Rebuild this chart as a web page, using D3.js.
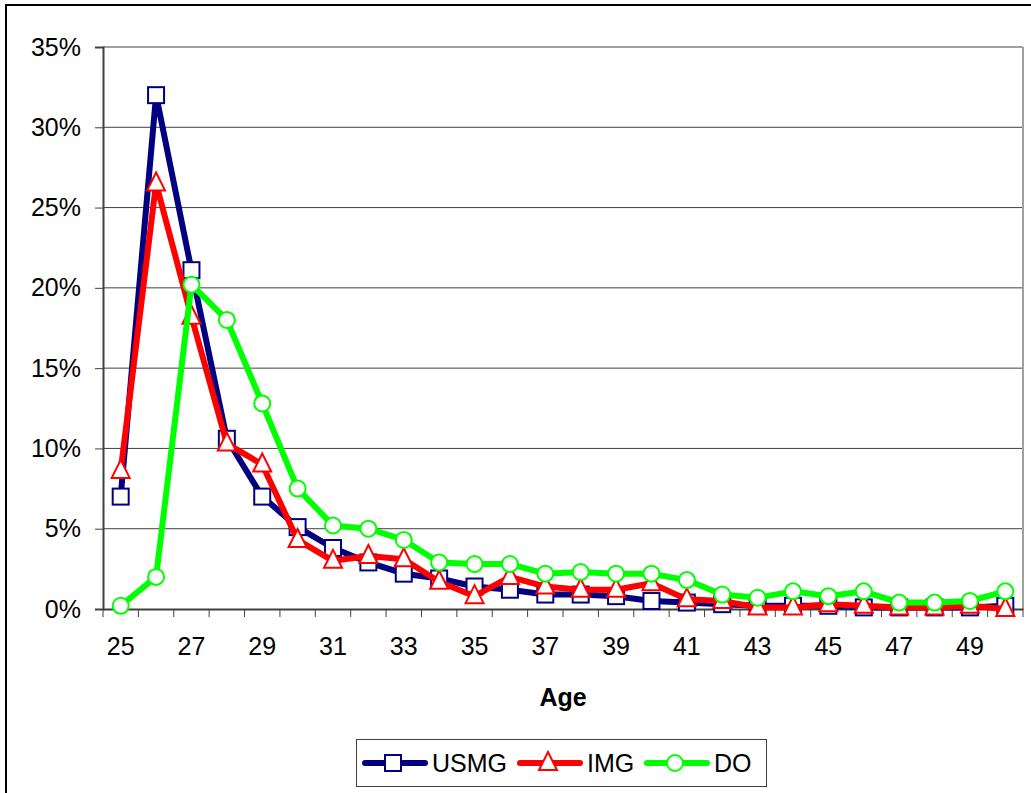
<!DOCTYPE html>
<html>
<head>
<meta charset="utf-8">
<script src="https://cdn.jsdelivr.net/npm/d3@7"></script>
<style>
  body { margin: 0; background: #fff; }
  svg { display: block; font-family: "Liberation Sans", Arial, sans-serif; }
</style>
</head>
<body>
<div id="chart"></div>
<script>
// Podatki
const ages = ["25","26","27","28","29","30","31","32","33","34","35","36","37","38","39","40","41","42","43","44","45","46","47","48","49","50"];
const ageLabels = ["25","27","29","31","33","35","37","39","41","43","45","47","49"];
const usmg = [7.0, 32.0, 21.1, 10.6, 7.0, 5.1, 3.8, 2.9, 2.2, 1.9, 1.4, 1.2, 0.9, 0.9, 0.8, 0.5, 0.4, 0.3, 0.2, 0.2, 0.2, 0.1, 0.1, 0.1, 0.1, 0.2];
const img  = [8.6, 26.5, 18.2, 10.3, 9.0, 4.3, 3.0, 3.3, 3.1, 1.7, 0.8, 2.0, 1.4, 1.2, 1.2, 1.6, 0.6, 0.5, 0.1, 0.1, 0.3, 0.2, 0.1, 0.1, 0.2, 0.0];
const dos  = [0.2, 2.0, 20.2, 18.0, 12.8, 7.5, 5.2, 5.0, 4.3, 2.9, 2.8, 2.8, 2.2, 2.3, 2.2, 2.2, 1.8, 0.9, 0.7, 1.1, 0.8, 1.1, 0.4, 0.4, 0.5, 1.1];
const yTicks = [0, 0.05, 0.10, 0.15, 0.20, 0.25, 0.30, 0.35];

const series = [
    { name: "USMG", values: usmg, color: "#000080", marker: "square" },
    { name: "IMG",  values: img,  color: "#ff0000", marker: "triangle" },
    { name: "DO",   values: dos,  color: "#00ff00", marker: "circle" }
];

const width = 1031, height = 793;
const plot = { left: 103, right: 1023, top: 47, bottom: 609 };

const svg = d3.select("#chart").append("svg")
    .attr("width", width)
    .attr("height", height);

// Zunanji okvir
svg.append("rect")
    .attr("x", 6).attr("y", 5)
    .attr("width", width + 10).attr("height", height + 10)
    .attr("fill", "#fff")
    .attr("stroke", "#000")
    .attr("stroke-width", 2);

// Skale
const x = d3.scaleBand().domain(ages).range([plot.left, plot.right]).padding(0);
const y = d3.scaleLinear().domain([0, 0.35]).range([plot.bottom, plot.top]);

// Mreža
svg.append("g")
    .selectAll("line")
    .data(yTicks.slice(1))
    .enter().append("line")
    .attr("x1", plot.left).attr("x2", plot.right)
    .attr("y1", d => y(d)).attr("y2", d => y(d))
    .attr("stroke", d => d === 0.35 ? "#a0a0a0" : "#404040")
    .attr("stroke-width", d => d === 0.35 ? 2 : 1);

// Desni rob
svg.append("line")
    .attr("x1", plot.right).attr("x2", plot.right)
    .attr("y1", plot.top).attr("y2", plot.bottom)
    .attr("stroke", "#a0a0a0").attr("stroke-width", 2);

// Os Y
const yAxis = svg.append("g")
    .attr("transform", `translate(${plot.left},0)`)
    .call(d3.axisLeft(y).tickValues(yTicks).tickFormat(d3.format(".0%")).tickSize(8).tickPadding(14));
yAxis.select(".domain").attr("stroke", "#404040").attr("stroke-width", 2);
yAxis.selectAll(".tick line").attr("stroke", "#404040");
yAxis.selectAll("text").style("font-size", "25px").attr("fill", "#000");

// Os X
const xAxis = svg.append("g")
    .attr("transform", `translate(0,${plot.bottom})`)
    .call(d3.axisBottom(x).tickValues([]).tickSizeOuter(0));
xAxis.select(".domain").attr("stroke", "#404040").attr("stroke-width", 2);

xAxis.selectAll(".cat-tick")
    .data(ages.concat(["end"]))
    .enter().append("line")
    .attr("x1", (d, i) => plot.left + i * x.step())
    .attr("x2", (d, i) => plot.left + i * x.step())
    .attr("y1", 0).attr("y2", 8)
    .attr("stroke", "#404040");

xAxis.selectAll(".cat-label")
    .data(ageLabels)
    .enter().append("text")
    .attr("x", d => x(d) + x.bandwidth() / 2)
    .attr("y", 46)
    .attr("text-anchor", "middle")
    .attr("fill", "#000")
    .style("font-size", "25px")
    .text(d => d);

// Naslov osi
svg.append("text")
    .attr("x", (plot.left + plot.right) / 2)
    .attr("y", 706)
    .attr("text-anchor", "middle")
    .style("font-size", "25px")
    .style("font-weight", "bold")
    .text("Age");

// Oznake
function drawMarker(g, type, cx, cy, color) {
    if (type === "square") {
        g.append("rect")
            .attr("x", cx - 8).attr("y", cy - 8)
            .attr("width", 16).attr("height", 16)
            .attr("fill", "#fff").attr("stroke", color).attr("stroke-width", 2);
    } else if (type === "triangle") {
        g.append("path")
            .attr("d", `M${cx},${cy - 11}L${cx + 9},${cy + 7}L${cx - 9},${cy + 7}Z`)
            .attr("fill", "#fff").attr("stroke", color).attr("stroke-width", 2);
    } else {
        g.append("circle")
            .attr("cx", cx).attr("cy", cy).attr("r", 8)
            .attr("fill", "#fff").attr("stroke", color).attr("stroke-width", 2);
    }
}

const line = d3.line()
    .x((d, i) => x(ages[i]) + x.bandwidth() / 2)
    .y(d => y(d / 100));

series.forEach(s => {
    const g = svg.append("g");
    g.append("path")
        .datum(s.values)
        .attr("fill", "none")
        .attr("stroke", s.color)
        .attr("stroke-width", 6)
        .attr("stroke-linejoin", "round")
        .attr("d", line);
    s.values.forEach((v, i) => {
        drawMarker(g, s.marker, x(ages[i]) + x.bandwidth() / 2, y(v / 100), s.color);
    });
});

// Legenda
const legend = svg.append("g");
legend.append("rect")
    .attr("x", 356.5).attr("y", 739.5)
    .attr("width", 410).attr("height", 47)
    .attr("fill", "#fff").attr("stroke", "#404040").attr("stroke-width", 1);

const legendX = [365, 520, 647];
series.forEach((s, i) => {
    const lx = legendX[i];
    legend.append("line")
        .attr("x1", lx).attr("x2", lx + 60)
        .attr("y1", 763).attr("y2", 763)
        .attr("stroke", s.color).attr("stroke-width", 6)
        .attr("stroke-linecap", "round");
    drawMarker(legend, s.marker, lx + 28, 763, s.color);
    legend.append("text")
        .attr("x", lx + 67)
        .attr("y", 772)
        .style("font-size", "25px")
        .text(s.name);
});
</script>
</body>
</html>
